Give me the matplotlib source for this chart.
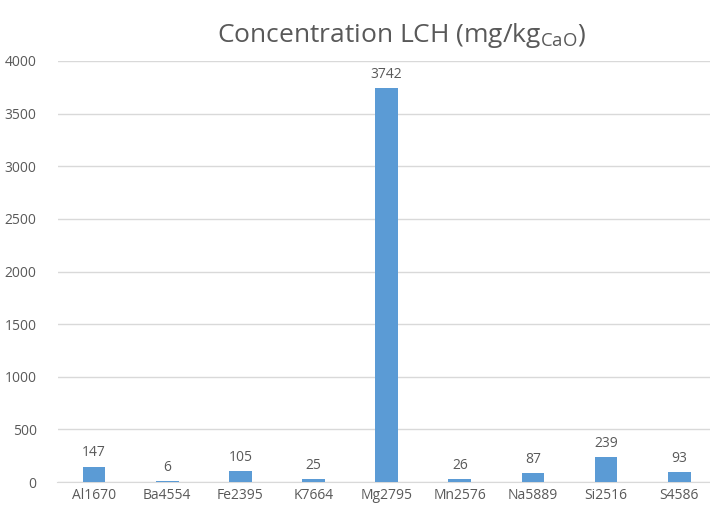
import matplotlib.pyplot as plt

elements = ["Al1670", "Ba4554", "Fe2395", "K7664", "Mg2795", "Mn2576", "Na5889", "Si2516", "S4586"]
values = [147, 6, 105, 25, 3742, 26, 87, 239, 93]
yticks = [0, 500, 1000, 1500, 2000, 2500, 3000, 3500, 4000]

plt.rcParams['font.family'] = ['Open Sans', 'DejaVu Sans']
grey = "#595959"

fig = plt.figure(figsize=(7.1, 5.07), dpi=100)
ax = fig.add_axes([57.5 / 710, 1 - 482 / 507, 1 - 57.5 / 710, (482 - 61) / 507])

x = range(len(elements))
ax.bar(x, values, width=0.31, color="#5B9BD5", zorder=3)
for xi, v in zip(x, values):
    ax.text(xi, v + 60, str(v), ha="center", va="bottom", fontsize=10, color=grey)

ax.set_xlim(-0.5, 8.42)
ax.set_ylim(0, 4000)
ax.set_yticks(yticks)
ax.set_xticks(list(x))
ax.set_xticklabels(elements)
ax.tick_params(axis="both", length=0, labelsize=10, colors=grey)
ax.tick_params(axis="x", pad=4)
ax.tick_params(axis="y", pad=15)
ax.grid(axis="y", color="#D9D9D9", linewidth=1, zorder=0)
for s in ["top", "right", "left"]:
    ax.spines[s].set_visible(False)
ax.spines["bottom"].set_color("#D9D9D9")

fig.text(0.565, 0.93, r"Concentration LCH (mg/kg$_{\mathregular{CaO}}$)", ha="center", va="center",
         fontsize=19, color=grey)

fig.savefig("out.png", dpi=100)
